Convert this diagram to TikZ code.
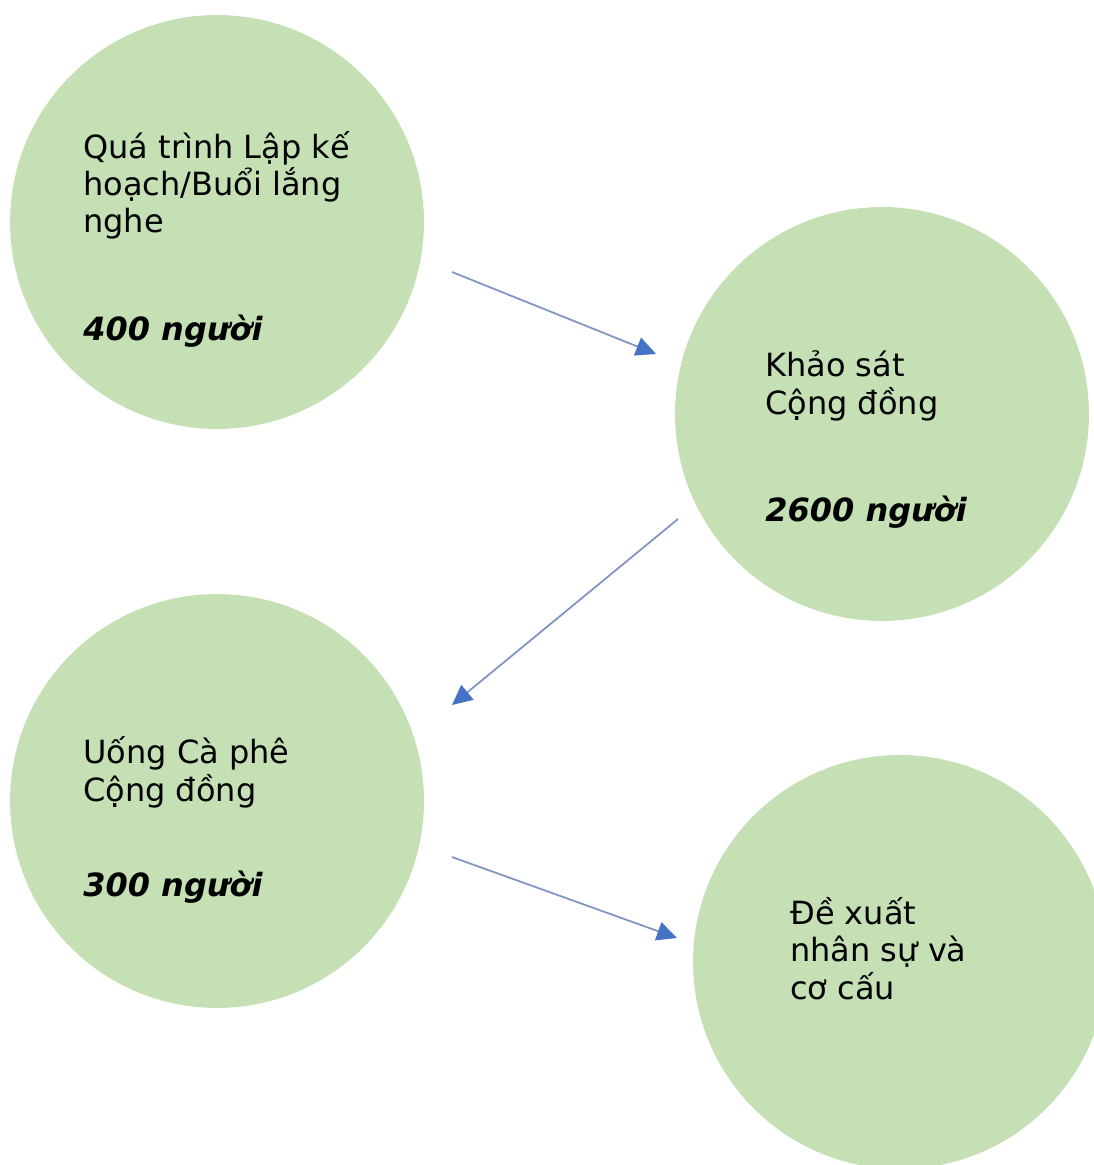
\documentclass[tikz,border=0pt]{standalone}
\usepackage{fontspec}
\setmainfont{DejaVu Sans}
\usetikzlibrary{arrows.meta}
\definecolor{bubblegreen}{HTML}{C5E0B4}
\definecolor{arrowline}{HTML}{8094C4}
\definecolor{arrowblue}{HTML}{4472C4}
\tikzset{
	bubble/.style={circle, fill=bubblegreen, minimum size=8.28cm, inner sep=0pt},
	bubbletext/.style={anchor=base west, align=left, inner sep=0pt, font=\fontsize{18.2pt}{21.3pt}\selectfont},
	headcount/.style={bubbletext, font=\fontsize{18.2pt}{21.3pt}\selectfont\bfseries\itshape},
	flow/.style={line width=1pt, color=arrowline, -{Triangle[length=0.4cm, width=0.38cm, color=arrowblue]}}
}

\begin{document}
\begin{tikzpicture}[x=0.02cm, y=-0.02cm]
		%%%%% START %%%%%
		\useasboundingbox (0, 0) rectangle (1094, 1165);
		\clip (0, 0) rectangle (1094, 1165);
		
		\node[bubble] (plan) at (217, 222) {};
		\node[bubble] (survey) at (882, 414) {};
		\node[bubble] (coffee) at (217, 801) {};
		\node[bubble] (proposal) at (900, 962) {};
		
		% multi-line texts: base sits one strut depth below the last line
		\node[bubbletext] (plantext) at (83, 233) {Quá trình Lập kế\\hoạch/Buổi lắng\\nghe};
		\node[headcount] (plancount) at (83, 341) {400 người};
		
		\node[bubbletext] (surveytext) at (765, 414) {Khảo sát\\Cộng đồng};
		\node[headcount] (surveycount) at (765, 521) {2600 người};
		
		\node[bubbletext] (coffeetext) at (83, 801) {Uống Cà phê\\Cộng đồng};
		\node[headcount] (coffeecount) at (83, 896) {300 người};
		
		\node[bubbletext] (proposaltext) at (790, 999) {Đề xuất\\nhân sự và\\cơ cấu};
		
		\coordinate (planout) at (452, 272);
		\coordinate (surveyin) at (656, 354);
		\coordinate (surveyout) at (678, 519);
		\coordinate (coffeein) at (452, 705);
		\coordinate (coffeeout) at (452, 857);
		\coordinate (proposalin) at (677, 938);
		
		\draw[flow] (planout) -- (surveyin);
		\draw[flow] (surveyout) -- (coffeein);
		\draw[flow] (coffeeout) -- (proposalin);
		
		%%%%% END %%%%%
	\end{tikzpicture}
\end{document}
